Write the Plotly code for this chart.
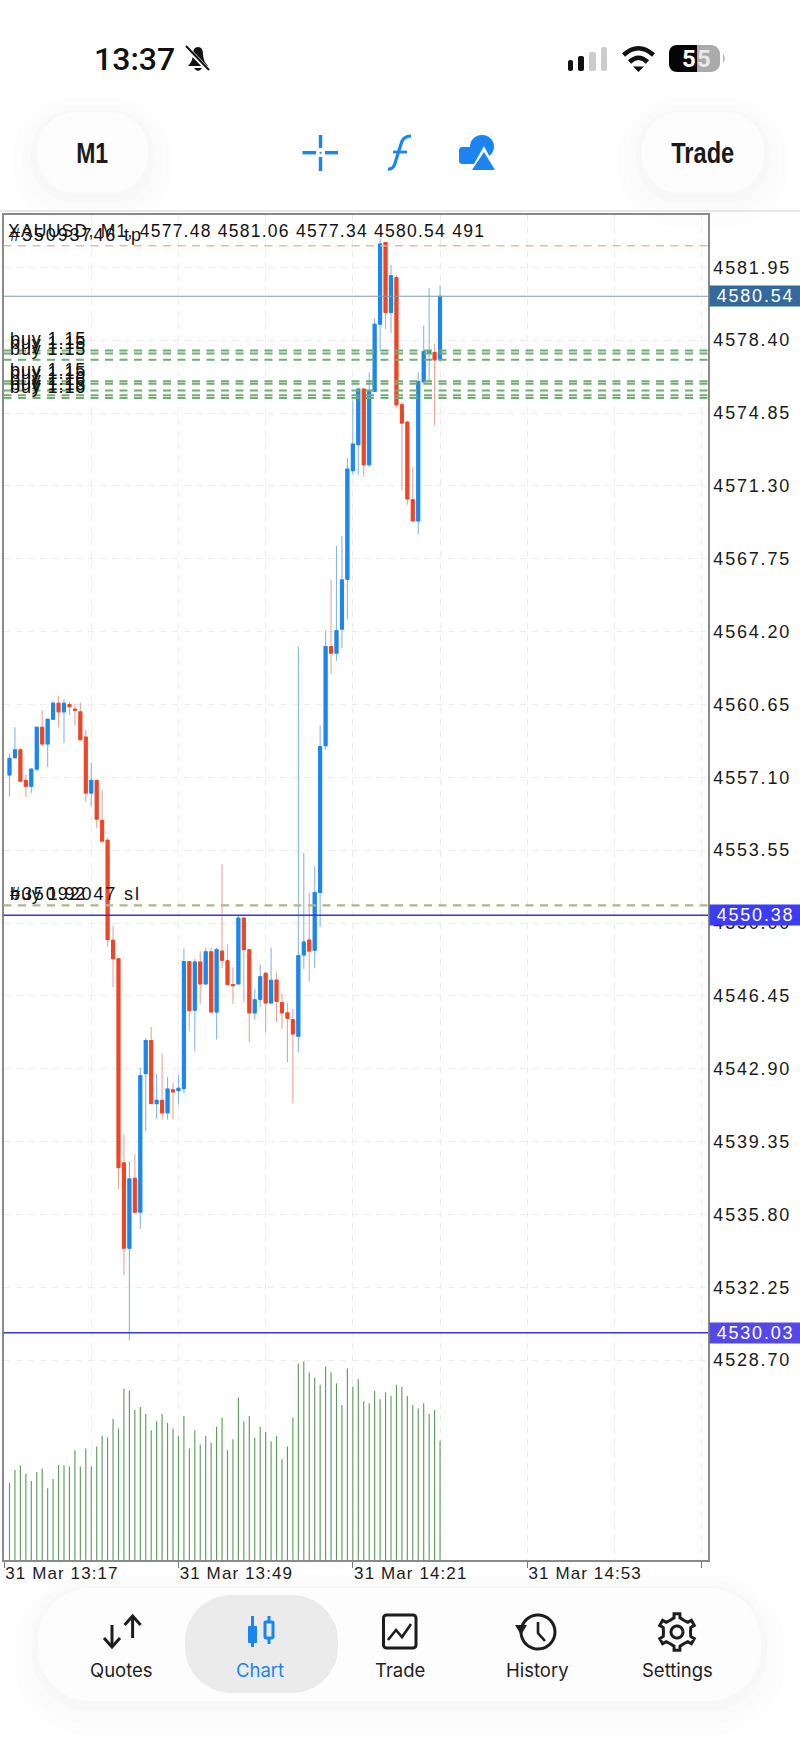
import numpy as np
import pandas as pd
import plotly.graph_objects as go

W, H = 800, 1739

# --- 1. chart data ---
opens = [4557.21, 4558.05, 4558.44, 4556.95, 4556.66, 4557.50, 4559.54, 4558.72, 4559.93, 4560.71,
         4560.29, 4560.65, 4560.42, 4560.29, 4559.06, 4556.33, 4556.95, 4555.00, 4554.03, 4549.16,
         4548.26, 4538.31, 4534.15, 4537.56, 4535.91, 4542.66, 4544.27, 4541.20, 4541.36, 4540.75,
         4541.87, 4541.83, 4541.93, 4548.12, 4545.75, 4548.10, 4547.03, 4548.60, 4545.66, 4548.63,
         4548.16, 4547.00, 4547.03, 4550.24, 4548.70, 4545.62, 4546.28, 4547.55, 4546.10, 4547.22,
         4546.12, 4545.62, 4545.29, 4544.48, 4548.44, 4549.17, 4548.67, 4551.49, 4558.64, 4563.47,
         4563.15, 4564.32, 4566.75, 4572.04, 4573.31, 4576.02, 4572.33, 4575.90, 4579.18, 4583.16,
         4579.75, 4581.45, 4575.25, 4574.41, 4570.63, 4569.59, 4576.37, 4577.79, 4577.80, 4577.48]
highs = [4558.25, 4559.54, 4558.52, 4557.22, 4557.50, 4559.54, 4560.36, 4559.93, 4560.81, 4561.07,
         4560.91, 4560.79, 4560.68, 4560.75, 4559.41, 4557.82, 4556.95, 4556.46, 4554.14, 4549.87,
         4548.30, 4539.69, 4538.39, 4538.76, 4542.94, 4544.40, 4544.93, 4542.66, 4543.64, 4542.50,
         4542.21, 4542.61, 4548.75, 4548.15, 4548.25, 4548.62, 4548.78, 4548.78, 4548.78, 4552.86,
         4548.94, 4547.84, 4550.40, 4550.24, 4548.70, 4546.78, 4547.99, 4547.63, 4548.81, 4547.60,
         4546.59, 4546.13, 4545.81, 4563.47, 4553.41, 4551.46, 4552.76, 4559.61, 4564.25, 4566.72,
         4568.38, 4568.86, 4572.66, 4575.46, 4576.07, 4576.07, 4576.84, 4579.47, 4583.37, 4583.16,
         4582.07, 4581.58, 4575.37, 4574.47, 4572.22, 4576.84, 4579.10, 4580.94, 4578.21, 4581.06]
lows = [4556.17, 4558.02, 4556.91, 4556.14, 4556.33, 4557.39, 4558.60, 4557.60, 4559.93, 4559.54,
        4558.77, 4560.15, 4559.61, 4558.93, 4555.88, 4555.68, 4554.63, 4553.90, 4548.83, 4546.87,
        4537.04, 4532.84, 4529.67, 4535.79, 4535.10, 4539.85, 4541.20, 4540.45, 4540.42, 4540.42,
        4540.42, 4541.15, 4541.72, 4544.72, 4543.75, 4546.07, 4547.03, 4545.66, 4544.32, 4547.81,
        4547.00, 4546.05, 4547.03, 4546.15, 4544.20, 4545.29, 4545.91, 4544.67, 4546.10, 4545.16,
        4544.84, 4543.21, 4541.23, 4543.70, 4547.76, 4547.16, 4547.81, 4549.80, 4558.44, 4562.13,
        4562.78, 4563.39, 4564.80, 4571.84, 4571.84, 4571.76, 4572.22, 4575.90, 4577.90, 4578.94,
        4578.74, 4575.14, 4571.08, 4570.38, 4569.59, 4568.94, 4576.23, 4576.39, 4574.25, 4577.34]
closes = [4558.02, 4558.44, 4556.91, 4556.66, 4557.50, 4559.54, 4558.72, 4559.93, 4560.71, 4560.29,
          4560.71, 4560.54, 4560.37, 4558.93, 4556.33, 4556.95, 4555.06, 4553.99, 4549.19, 4548.26,
          4538.08, 4534.15, 4537.53, 4535.91, 4542.56, 4544.27, 4541.20, 4541.36, 4540.75, 4541.91,
          4541.77, 4541.95, 4548.12, 4545.73, 4548.10, 4547.03, 4548.60, 4545.66, 4548.70, 4548.18,
          4547.00, 4546.95, 4550.24, 4548.70, 4545.62, 4546.26, 4547.38, 4546.10, 4547.21, 4546.18,
          4545.62, 4545.36, 4544.59, 4548.41, 4549.07, 4548.63, 4551.49, 4558.60, 4563.47, 4563.15,
          4564.25, 4566.72, 4572.12, 4573.34, 4576.02, 4572.33, 4575.90, 4579.18, 4583.09, 4579.75,
          4581.54, 4575.25, 4574.36, 4570.66, 4569.59, 4576.39, 4577.85, 4577.85, 4577.44, 4580.54]
volumes = [318, 370, 390, 355, 325, 362, 377, 295, 333, 390, 390, 385, 452, 385, 459, 385, 467, 511, 504, 580,
           541, 706, 697, 617, 630, 601, 534, 571, 601, 564, 541, 511, 593, 459, 534, 475, 511, 482, 548, 586,
           452, 497, 669, 571, 593, 504, 548, 527, 489, 511, 415, 467, 586, 808, 818, 773, 751, 721, 796, 773,
           727, 638, 788, 714, 744, 653, 645, 697, 662, 690, 675, 721, 712, 675, 638, 623, 645, 601, 617, 491]
times = pd.date_range("2026-03-31 13:18", periods=len(opens), freq="min")

price_ticks = [4528.70, 4532.25, 4535.80, 4539.35, 4542.90, 4546.45, 4550.00, 4553.55,
               4557.10, 4560.65, 4564.20, 4567.75, 4571.30, 4574.85, 4578.40, 4581.95]
time_ticks = ["2026-03-31 13:17", "2026-03-31 13:49", "2026-03-31 14:21", "2026-03-31 14:53", "2026-03-31 15:25"]
time_labels = ["31 Mar 13:17", "31 Mar 13:49", "31 Mar 14:21", "31 Mar 14:53", ""]
time_grid = ["2026-03-31 13:33", "2026-03-31 14:05", "2026-03-31 14:37", "2026-03-31 15:09"]

tp_level = 4583.00
sl_level = 4550.86
bid_price = 4580.54
line_prices = [4550.38, 4530.03]
buy_levels = [4577.90, 4577.75, 4577.45, 4576.40, 4576.28, 4575.95, 4575.72, 4575.58]
buy_labels = ["buy 1.15", "buy 1.15", "buy 1.15", "buy 1.15", "buy 1.15", "buy 1.16", "buy 1.15", "buy 1.16"]
header = "XAUUSD, M1, 4577.48 4581.06 4577.34 4580.54 491"

BLUE = "#1a86ee"
RED = "#ee4526"
ICON = "#1a84f0"
INK = "#1d1d1f"
CHART_FONT = "Liberation Sans"

opens_a, closes_a = np.array(opens), np.array(closes)
body_top = np.maximum(opens_a, closes_a)
body_low = np.minimum(opens_a, closes_a)


# --- 2. helpers for the phone screen around the chart (pixel positions) ---
def px_path(d):
    out = []
    is_x = True
    for t in d.split():
        if t.isalpha():
            out.append(t)
        else:
            v = float(t)
            out.append(f"{v / W:.5f}" if is_x else f"{1 - v / H:.5f}")
            is_x = not is_x
    return " ".join(out)


def rrect(x0, y0, x1, y1, r):
    k = r * 0.45
    return (f"M {x0 + r} {y0} L {x1 - r} {y0} C {x1 - k} {y0} {x1} {y0 + k} {x1} {y0 + r} "
            f"L {x1} {y1 - r} C {x1} {y1 - k} {x1 - k} {y1} {x1 - r} {y1} "
            f"L {x0 + r} {y1} C {x0 + k} {y1} {x0} {y1 - k} {x0} {y1 - r} "
            f"L {x0} {y0 + r} C {x0} {y0 + k} {x0 + k} {y0} {x0 + r} {y0} Z")


def arc(cx, cy, r, a0, a1, n=40):
    pts = [(cx + r * np.cos(a), cy - r * np.sin(a)) for a in np.radians(np.linspace(a0, a1, n))]
    return "M " + " L ".join(f"{x:.2f} {y:.2f}" for x, y in pts)


shapes = []


def draw(d, fill=None, stroke=None, width=0, layer="above"):
    shapes.append(dict(type="path", path=px_path(d), xref="paper", yref="paper", layer=layer,
                       fillcolor=fill if fill else "rgba(0,0,0,0)",
                       line=dict(color=stroke if stroke else "rgba(0,0,0,0)", width=width)))


def pill(x0, y0, x1, y1, r, fill="#fdfdfd"):
    # soft shadow made of a few pale layers
    draw(rrect(x0 - 24, y0 - 14, x1 + 24, y1 + 34, r + 20), fill="#fdfdfd", layer="below")
    draw(rrect(x0 - 14, y0 - 7, x1 + 14, y1 + 22, r + 12), fill="#fbfbfb", layer="below")
    draw(rrect(x0 - 6, y0 - 2, x1 + 6, y1 + 10, r + 5), fill="#f8f8f8", layer="below")
    draw(rrect(x0, y0, x1, y1, r), fill=fill, layer="below")


annotations = []


def label(text, x, y, size, color=INK, family="Inter", anchor="center", weight=400):
    annotations.append(dict(text=text, x=x / W, y=1 - y / H, xref="paper", yref="paper", showarrow=False,
                            xanchor=anchor, yanchor="middle", borderpad=0,
                            font=dict(size=size, color=color, family=family, weight=weight)))


# --- 3. the chart: wicks, bodies, volumes on one time axis ---
fig = go.Figure()

fig.add_trace(go.Candlestick(
    x=times, open=opens, high=highs, low=lows, close=closes, whiskerwidth=0, hoverinfo="skip",
    increasing=dict(line=dict(color="#86b8e6", width=1.1), fillcolor="#86b8e6"),
    decreasing=dict(line=dict(color="#e9a697", width=1.1), fillcolor="#e9a697"),
))
fig.add_trace(go.Candlestick(
    x=times, open=opens, high=body_top, low=body_low, close=closes, whiskerwidth=0, hoverinfo="skip",
    increasing=dict(line=dict(color=BLUE, width=1), fillcolor=BLUE),
    decreasing=dict(line=dict(color=RED, width=1), fillcolor=RED),
))
# alpha just under 1 keeps plotly from widening thin bars to whole pixels
fig.add_trace(go.Bar(x=times, y=volumes, yaxis="y2", width=12500, hoverinfo="skip",
                     marker=dict(color="rgba(92,152,92,0.99)", line=dict(width=0))))

# --- 4. horizontal levels and their texts ---
fig.add_hline(y=tp_level, line=dict(color="#e9b9a2", width=1.5, dash="8px,6.5px"))
fig.add_hline(y=bid_price, line=dict(color="#7d9db5", width=1.2))
fig.add_hline(y=sl_level, line=dict(color="#b3b48c", width=2.2, dash="8px,6.5px"))
for lvl in buy_levels:
    fig.add_hline(y=lvl, line=dict(color="#6fae72", width=1.9, dash="8px,6.5px"))
for p in line_prices:
    fig.add_hline(y=p, line=dict(color="#3b35dc", width=1.4))

LEFT_TEXT = 9 / W
for lvl, txt in zip(buy_levels, buy_labels):
    annotations.append(dict(text=txt, x=LEFT_TEXT, y=lvl, xref="paper", yref="y", showarrow=False,
                            xanchor="left", yanchor="bottom", borderpad=0,
                            font=dict(size=18, color="#111111", family=CHART_FONT)))
for txt in ["#35092047 sl", "buy 1.92"]:
    annotations.append(dict(text=txt, x=LEFT_TEXT, y=sl_level, xref="paper", yref="y", showarrow=False,
                            xanchor="left", yanchor="bottom", borderpad=0,
                            font=dict(size=18, color="#111111", family=CHART_FONT)))
annotations.append(dict(text="#35093746 tp", x=LEFT_TEXT, y=tp_level, xref="paper", yref="y", showarrow=False,
                        xanchor="left", yanchor="bottom", borderpad=0,
                        font=dict(size=18, color="#111111", family=CHART_FONT)))
label(header, 7, 230.5, 17.5, color="#111111", family=CHART_FONT, anchor="left")

for price, bg in zip([bid_price] + line_prices, ["#34699c", "#3c3cf2", "#5548e8"]):
    annotations.append(dict(text=f"{price:.2f}", x=709 / W, y=price, xref="paper", yref="y", showarrow=False,
                            xanchor="left", yanchor="middle", width=91, height=20, align="center", borderpad=0,
                            bgcolor=bg, font=dict(size=18, color="white", family=CHART_FONT)))

# --- 5. status bar ---
label("13:37", 134, 59.5, 32, color="#111111", family="Roboto", weight=500)
draw("M 188 66 Q 193 61 193 54 Q 193 47 198 47 Q 203 47 203 54 Q 203 61 208 66 Z", fill="#111111")
draw("M 194 68 L 202 68 Q 198 74 194 68 Z", fill="#111111")
draw("M 186 47 L 209 71", stroke="white", width=4.5)
draw("M 186 46 L 209 70", stroke="#111111", width=2)
for x0, x1, y0, col in [(568, 573, 60, "#111111"), (578, 584, 56, "#111111"),
                        (589, 596, 52, "#cccccc"), (601, 607, 47, "#cccccc")]:
    draw(rrect(x0, y0, x1, 71, 2), fill=col)
draw("M 623.5 55 Q 638.5 41.5 653.5 55", stroke="#111111", width=4.5)
draw("M 629.5 62 Q 638.5 53.5 647.5 62", stroke="#111111", width=4.5)
draw("M 633 66.5 L 644 66.5 L 638.5 72 Z", fill="#111111")
draw(rrect(669, 45, 720, 72, 9), fill="#aaaaaa")
draw("M 678 45 L 697 45 L 697 72 L 678 72 C 672 72 669 69 669 63 L 669 54 C 669 48 672 45 678 45 Z", fill="#050505")
draw("M 723 54 Q 727 58 723 63 Z", fill="#bbbbbb")
label("5", 688.5, 59, 24, color="white", family="Roboto", weight=700)
label("5", 704, 59, 24, color="#e8e8e8", family="Roboto", weight=700)

# --- 6. top toolbar ---
pill(37, 112, 148, 193, 38)
pill(642, 112, 764, 193, 38)
label("M1", 91.5, 153, 29, color="#1a1a1a", family="Liberation Sans", weight=700)
label("Trade", 702.5, 153, 29, color="#1a1a1a", family="Liberation Sans", weight=700)
for d in ["M 302.5 152.7 L 316 152.7", "M 325 152.7 L 338 152.7", "M 320.5 135 L 320.5 148", "M 320.5 157 L 320.5 171"]:
    draw(d, stroke=ICON, width=3.4)
draw(rrect(319.5, 151.7, 321.5, 153.7, 1), fill=ICON)
draw("M 388 169 Q 394 170 396 160 L 401 144 Q 403 136 411 136", stroke=ICON, width=3.2)
draw("M 393 152 L 407 152", stroke=ICON, width=2.8)
draw(rrect(459, 147, 480, 164, 3), fill=ICON)
draw(rrect(470, 135, 494, 158, 11.5), fill=ICON)
draw("M 484 146 L 498 173 L 469 173 Z", fill="white")
draw("M 484 152 L 495 170 L 472 170 Z", fill=ICON)
shapes.append(dict(type="line", xref="paper", yref="paper", x0=0, x1=1, y0=1 - 211 / H, y1=1 - 211 / H,
                   line=dict(color="#d2d2d2", width=1.2)))

# --- 7. bottom navigation ---
pill(38, 1588, 761, 1701, 52)
draw(rrect(185, 1595, 338, 1693, 46), fill="#ebebeb", layer="below")
for txt, x, col in [("Quotes", 121, INK), ("Chart", 260, ICON), ("Trade", 399.5, INK),
                    ("History", 537, INK), ("Settings", 677.5, INK)]:
    label(txt, x, 1670, 18.5, color=col, family="Inter")
draw("M 112 1625 L 112 1646", stroke=INK, width=3)
draw("M 104 1638 L 112 1647 L 120 1638", stroke=INK, width=3)
draw("M 132.6 1617 L 132.6 1638", stroke=INK, width=3)
draw("M 124.6 1625 L 132.6 1616 L 140.6 1625", stroke=INK, width=3)
draw("M 252.5 1616 L 252.5 1647", stroke=ICON, width=3)
draw(rrect(248, 1626, 257, 1643, 1), fill=ICON)
draw("M 269 1616 L 269 1622", stroke=ICON, width=3)
draw("M 269 1638 L 269 1644", stroke=ICON, width=3)
draw(rrect(265, 1622, 273, 1638, 1), stroke=ICON, width=3)
draw(rrect(383.5, 1615, 416, 1648, 3), stroke=INK, width=3)
draw("M 388 1640 L 396 1630 L 402 1637 L 411 1624", stroke=INK, width=2.6)
draw(arc(538, 1632, 17, 170, -195), stroke=INK, width=3)
draw("M 515 1625 L 527 1625 L 521 1635 Z", fill=INK)
draw("M 538 1622 L 538 1633 L 545 1641", stroke=INK, width=2.6)
gear = []
for i in range(6):
    a = 90 + 60 * i
    for off, r in [(-30, 13.5), (-12, 14.5), (-9, 18.5), (9, 18.5), (12, 14.5)]:
        gear.append((677 + r * np.cos(np.radians(a + off)), 1632 - r * np.sin(np.radians(a + off))))
draw("M " + " L ".join(f"{x:.2f} {y:.2f}" for x, y in gear) + " Z", stroke=INK, width=3)
draw(arc(677, 1632, 6, 0, 360), stroke=INK, width=3)

# --- 8. layout ---
grid_color = "#ececec"
fig.update_layout(
    width=W, height=H, autosize=False, margin=dict(l=0, r=0, t=0, b=0),
    paper_bgcolor="white", plot_bgcolor="white", showlegend=False, boxgap=0.45, boxgroupgap=0,
    font=dict(family=CHART_FONT, color="#1a1a1a"),
    shapes=list(fig.layout.shapes) + shapes, annotations=annotations,
    xaxis=dict(
        domain=[3.5 / W, 708 / W], type="date", range=["2026-03-31 13:16:54", "2026-03-31 15:26:10"],
        rangeslider=dict(visible=False), tickmode="array", tickvals=time_ticks, ticktext=time_labels,
        ticks="outside", ticklen=6, tickcolor="#777777", ticklabelposition="outside right",
        ticklabelstandoff=-3, tickfont=dict(size=17, color="#1a1a1a"),
        showline=True, linecolor="#8a8a8a", linewidth=1.5, mirror=True,
        showgrid=True, gridcolor=grid_color, griddash="6px,6px",
        minor=dict(tickmode="array", tickvals=time_grid, showgrid=True, gridcolor=grid_color,
                   griddash="6px,6px", ticks=""),
    ),
    yaxis=dict(
        domain=[1 - 1560 / H, 1 - 215 / H], range=[4518.96, 4584.50], side="right",
        tickmode="array", tickvals=price_ticks, tickformat=".2f", ticks="outside", ticklen=3,
        ticklabelstandoff=-3,
        tickcolor="rgba(0,0,0,0)", tickfont=dict(size=18, color="#1a1a1a"),
        showline=True, linecolor="#8a8a8a", linewidth=1.5, mirror=True,
        showgrid=True, gridcolor=grid_color, griddash="6px,6px", zeroline=False,
    ),
    yaxis2=dict(domain=[1 - 1560 / H, 1 - 215 / H], range=[0, 5535], overlaying="y", visible=False),
)

# the screenshot's chart text is spaced wider than any installed font, and its toolbar text is condensed.
# annotation text is centred in its box, so left-aligned ones are pushed right by half of the added width
post = """
document.body.style.margin = '0';
document.body.style.overflow = 'hidden';
function spaced(t, px, keepLeft) {
    var w0 = t.getComputedTextLength();
    t.style.letterSpacing = px + 'px';
    if (keepLeft) {
        var dx = (t.getComputedTextLength() - w0) / 2;
        t.setAttribute('x', parseFloat(t.getAttribute('x') || 0) + dx);
        t.querySelectorAll('tspan[x]').forEach(s => s.setAttribute('x', parseFloat(s.getAttribute('x')) + dx));
    }
}
document.querySelectorAll('.ytick text').forEach(t => spaced(t, 1.8, false));
document.querySelectorAll('.xtick text').forEach(t => spaced(t, 1.1, false));
document.querySelectorAll('.annotation-text').forEach(t => {
    var s = t.textContent;
    if (/^\\d{4}\\.\\d\\d$/.test(s)) spaced(t, 1.8, false);
    else if (s.indexOf('XAUUSD') === 0) spaced(t, 1.25, true);
    else if (s.indexOf('buy') === 0) spaced(t, 0.9, true);
    else if (s.indexOf('#') === 0) spaced(t, 1.9, true);
    else if (s === 'M1' || (s === 'Trade' && t.style.fontWeight == '700')) {
        t.setAttribute('textLength', s === 'M1' ? '32' : '63');
        t.setAttribute('lengthAdjust', 'spacingAndGlyphs');
    }
});
"""
fig.write_html("out.html", config=dict(displayModeBar=False), post_script=post)
